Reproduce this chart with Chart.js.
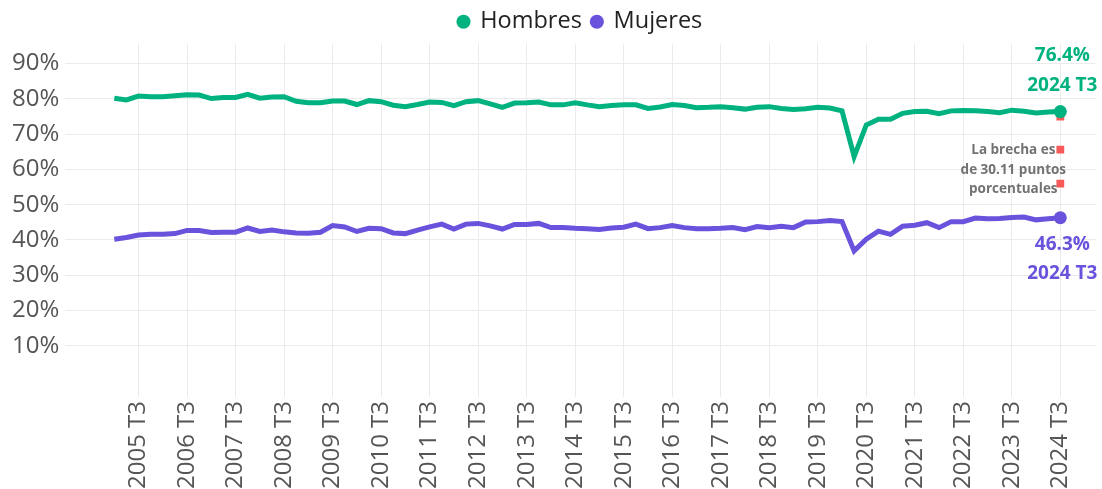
<!DOCTYPE html>
<html lang="es">
<head>
<meta charset="UTF-8">
<title>Tasa de actividad por sexo</title>
<script src="https://cdn.jsdelivr.net/npm/chart.js@4.4.1/dist/chart.umd.min.js"></script>
<style>
  html, body { margin: 0; padding: 0; background: #fff; }
  #wrap { width: 1102px; height: 489px; }
</style>
</head>
<body>
<div id="wrap"><canvas id="chart"></canvas></div>
<script>
// periodos trimestrales 2005 T1 - 2024 T3
const periodos = [
  '2005 T1','2005 T2','2005 T3','2005 T4','2006 T1','2006 T2','2006 T3','2006 T4',
  '2007 T1','2007 T2','2007 T3','2007 T4','2008 T1','2008 T2','2008 T3','2008 T4',
  '2009 T1','2009 T2','2009 T3','2009 T4','2010 T1','2010 T2','2010 T3','2010 T4',
  '2011 T1','2011 T2','2011 T3','2011 T4','2012 T1','2012 T2','2012 T3','2012 T4',
  '2013 T1','2013 T2','2013 T3','2013 T4','2014 T1','2014 T2','2014 T3','2014 T4',
  '2015 T1','2015 T2','2015 T3','2015 T4','2016 T1','2016 T2','2016 T3','2016 T4',
  '2017 T1','2017 T2','2017 T3','2017 T4','2018 T1','2018 T2','2018 T3','2018 T4',
  '2019 T1','2019 T2','2019 T3','2019 T4','2020 T1','2020 T2','2020 T3','2020 T4',
  '2021 T1','2021 T2','2021 T3','2021 T4','2022 T1','2022 T2','2022 T3','2022 T4',
  '2023 T1','2023 T2','2023 T3','2023 T4','2024 T1','2024 T2','2024 T3'
];

const hombres = [
  80.2, 79.7, 80.8, 80.6, 80.6, 80.9, 81.2, 81.1, 80.1, 80.4,
  80.4, 81.3, 80.2, 80.5, 80.6, 79.3, 78.9, 78.9, 79.4, 79.4,
  78.4, 79.5, 79.2, 78.2, 77.8, 78.4, 79.1, 79.0, 78.1, 79.2,
  79.5, 78.6, 77.6, 78.8, 78.9, 79.1, 78.3, 78.3, 78.9, 78.3,
  77.8, 78.1, 78.3, 78.3, 77.3, 77.7, 78.4, 78.1, 77.5, 77.6,
  77.8, 77.5, 77.1, 77.6, 77.8, 77.3, 77.0, 77.2, 77.6, 77.4,
  76.6, 63.6, 72.6, 74.2, 74.2, 75.9, 76.4, 76.5, 75.8, 76.6,
  76.7, 76.6, 76.4, 76.1, 76.8, 76.5, 76.0, 76.3, 76.4
];

const mujeres = [
  40.2, 40.7, 41.4, 41.6, 41.6, 41.8, 42.7, 42.7, 42.1, 42.2,
  42.2, 43.4, 42.4, 42.8, 42.3, 42.0, 41.9, 42.2, 44.1, 43.7,
  42.4, 43.3, 43.2, 42.0, 41.8, 42.8, 43.7, 44.5, 43.1, 44.5,
  44.7, 44.0, 43.1, 44.4, 44.4, 44.7, 43.5, 43.5, 43.3, 43.2,
  43.0, 43.4, 43.6, 44.5, 43.2, 43.5, 44.1, 43.5, 43.2, 43.2,
  43.3, 43.5, 42.9, 43.8, 43.5, 43.9, 43.5, 45.1, 45.2, 45.5,
  45.2, 36.9, 40.2, 42.5, 41.6, 43.9, 44.2, 44.9, 43.5, 45.2,
  45.2, 46.2, 46.0, 46.1, 46.4, 46.5, 45.7, 46.0, 46.3
];

// marcas de la brecha (cuadrados rojos)
const brechaMarcas = [75.0, 65.6, 56.0];
const brechaTexto = ['La brecha es', 'de 30.11 puntos', 'porcentuales'];

// etiquetas del eje x (solo T3) y del eje y
const ticksX = ['2005 T3','2006 T3','2007 T3','2008 T3','2009 T3','2010 T3','2011 T3',
  '2012 T3','2013 T3','2014 T3','2015 T3','2016 T3','2017 T3','2018 T3','2019 T3',
  '2020 T3','2021 T3','2022 T3','2023 T3','2024 T3'];
const ticksY = [10, 20, 30, 40, 50, 60, 70, 80, 90];

const VERDE = '#00b27f';
const MORADO = '#6a52dc';
const FONT = "'Open Sans', sans-serif";
const last = periodos.length - 1;

const toPoints = arr => arr.map((v, i) => ({ x: i, y: v }));
const lastOnly = r => ctx => ctx.dataIndex === last ? r : 0;

// textos junto al ultimo punto
const etiquetas = {
  id: 'etiquetas',
  afterDatasetsDraw(chart) {
    const { ctx, scales: { x, y } } = chart;
    const px = x.getPixelForValue(last) + 2;
    const yH = y.getPixelForValue(hombres[last]);
    const yM = y.getPixelForValue(mujeres[last]);
    ctx.save();
    ctx.textAlign = 'center';
    ctx.textBaseline = 'middle';
    ctx.font = "bold 19px " + FONT;
    ctx.fillStyle = VERDE;
    ctx.fillText(hombres[last].toFixed(1) + '%', px, yH - 56);
    ctx.fillText(periodos[last], px, yH - 26);
    ctx.fillStyle = MORADO;
    ctx.fillText(mujeres[last].toFixed(1) + '%', px, yM + 27);
    ctx.fillText(periodos[last], px, yM + 56);
    ctx.font = "bold 13.5px " + FONT;
    ctx.fillStyle = '#727272';
    const mid = (yH + yM) / 2 + 5;
    brechaTexto.forEach((t, k) => {
      ctx.fillText(t, px - 49, mid + (k - 1) * 19.5);
    });
    ctx.restore();
  }
};

new Chart(document.getElementById('chart'), {
  type: 'line',
  data: {
    datasets: [
      {
        label: 'Hombres',
        data: toPoints(hombres),
        borderColor: VERDE,
        backgroundColor: VERDE,
        borderWidth: 5,
        pointRadius: lastOnly(6.5),
        pointBorderWidth: 0,
        tension: 0
      },
      {
        label: 'Mujeres',
        data: toPoints(mujeres),
        borderColor: MORADO,
        backgroundColor: MORADO,
        borderWidth: 5,
        pointRadius: lastOnly(6.5),
        pointBorderWidth: 0,
        tension: 0
      },
      {
        label: 'brecha',
        data: brechaMarcas.map(v => ({ x: last, y: v })),
        showLine: false,
        pointStyle: 'rect',
        pointRadius: 5.5,
        pointBorderWidth: 0,
        backgroundColor: '#f85a5a',
        borderColor: '#f85a5a',
        order: 5
      }
    ]
  },
  options: {
    responsive: true,
    maintainAspectRatio: false,
    animation: false,
    layout: { padding: { left: 6, right: 0, top: 0, bottom: -4 } },
    plugins: {
      tooltip: { enabled: false },
      legend: {
        position: 'top',
        fullSize: false,
        labels: {
          filter: item => item.text !== 'brecha',
          usePointStyle: true,
          pointStyle: 'circle',
          boxWidth: 10,
          boxHeight: 10,
          color: '#222',
          padding: 10,
          font: { family: FONT, size: 23.5 }
        }
      }
    },
    scales: {
      x: {
        type: 'linear',
        min: -4.04,
        max: 80.9,
        afterBuildTicks: axis => {
          axis.ticks = ticksX.map(t => ({ value: periodos.indexOf(t) }));
        },
        ticks: {
          autoSkip: false,
          minRotation: 90,
          maxRotation: 90,
          padding: 4,
          color: '#555',
          font: { family: FONT, size: 24 },
          callback: v => periodos[v]
        },
        grid: { color: '#ebebeb', lineWidth: 1, drawTicks: false },
        border: { display: false }
      },
      y: {
        min: -4.5,
        max: 95.7,
        afterBuildTicks: axis => {
          axis.ticks = ticksY.map(v => ({ value: v }));
        },
        ticks: {
          padding: 6,
          color: '#555',
          font: { family: FONT, size: 24 },
          callback: v => v + '%'
        },
        grid: { color: '#ebebeb', lineWidth: 1, drawTicks: false },
        border: { display: false }
      }
    }
  },
  plugins: [etiquetas]
});
</script>
</body>
</html>
